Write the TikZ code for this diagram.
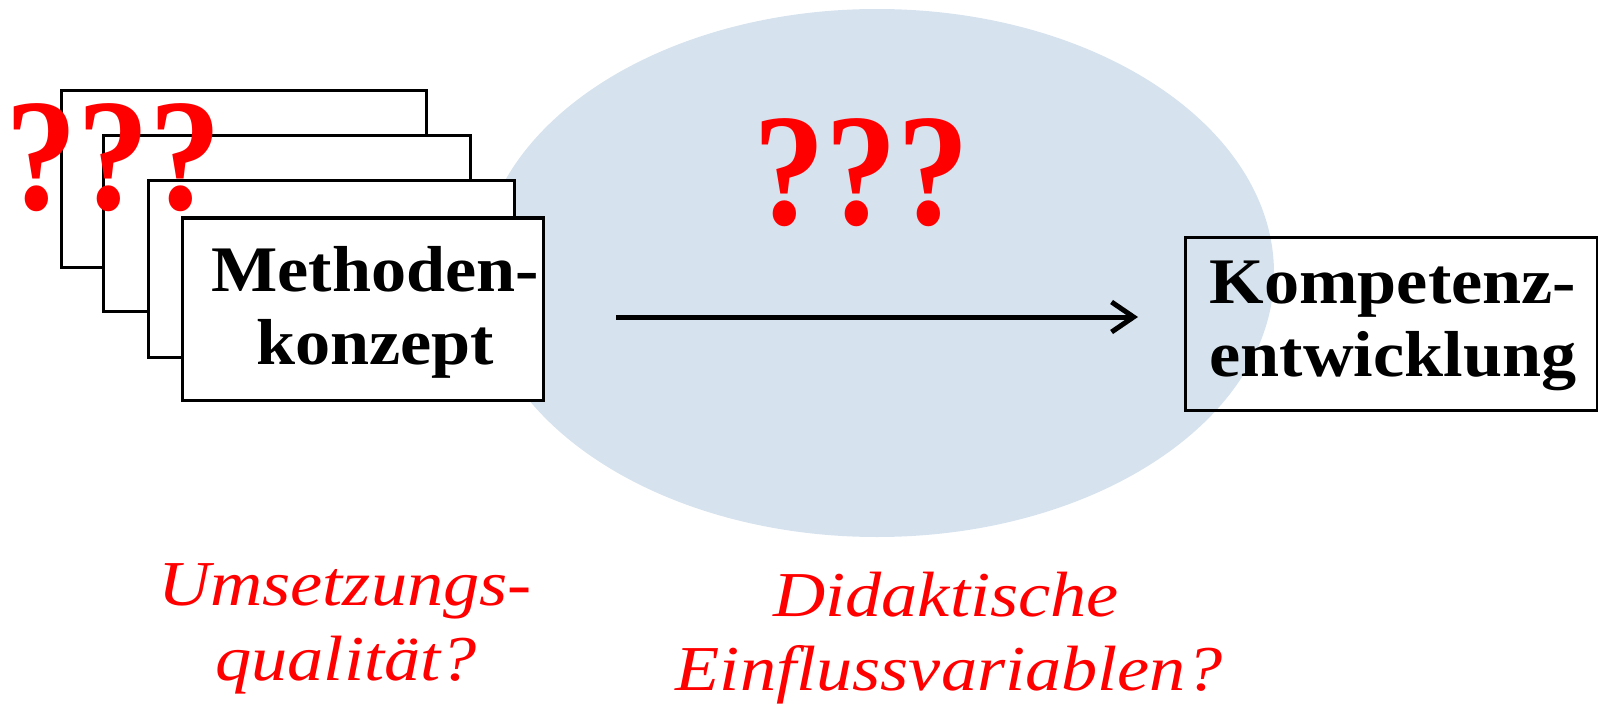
\documentclass[tikz,border=0pt]{standalone}
\usepackage{fontspec}
\setmainfont{Liberation Serif}
\usetikzlibrary{arrows.meta}
\definecolor{ellfill}{RGB}{214,226,238}
\definecolor{qred}{RGB}{255,0,0}
\newcommand{\bx}[1]{\scalebox{1.08}[1]{#1}}
\newcommand{\rx}[1]{\scalebox{1.13}[1]{#1}}
\tikzset{
  card/.style={draw=black, line width=3bp, fill=white},
  outbox/.style={draw=black, line width=3bp},
  boxtext/.style={font=\fontsize{65bp}{73bp}\selectfont\bfseries, align=center, inner sep=0pt},
  redlabel/.style={text=qred, font=\fontsize{64bp}{76bp}\selectfont\itshape, align=center, inner sep=0pt},
  qmarks/.style={text=qred, font=\fontsize{160bp}{160bp}\selectfont\bfseries, inner sep=0pt, anchor=base},
}
\begin{document}
\begin{tikzpicture}[x=1bp,y=-1bp]
\useasboundingbox (0,0) rectangle (1598,706);
% background ellipse
\fill[ellfill] (877,273) ellipse [x radius=397, y radius=264];
% stacked cards
\draw[card] (61,91) rectangle (426,267);
\draw[card] (103,136) rectangle (470,311);
\draw[card] (148,180) rectangle (514,357);
\node[card, minimum width=361bp, minimum height=182bp, inner sep=0pt] (meth) at (362.5,309) {};
\node[boxtext] (methtext) at (375,312) {\bx{Methoden-}\\\bx{konzept}};
% question marks on cards
\node[qmarks] (q1) at (113,209) {\scalebox{0.9}[1]{???}};
% central question marks
\node[qmarks] (q2) at (861,224) {\scalebox{0.9}[1]{???}};
% target box
\node[outbox, minimum width=412bp, minimum height=173bp, inner sep=0pt] (komp) at (1391,323.5) {};
\node[boxtext] (komptext) at (1393,326) {\bx{Kompetenz-}\\\bx{entwicklung}};
% arrow
\coordinate (astart) at (616,317);
\coordinate (aend) at (1138,317);
\draw[line width=5bp, -{Straight Barb[length=22bp, width=30bp, line width=5bp]}] (astart) -- (aend);
% red labels
\node[redlabel, anchor=base] (lab1a) at (345,605) {\rx{Umsetzungs-}};
\node[redlabel, anchor=base] (lab1b) at (346,680) {\rx{qualität?}};
\node[redlabel, anchor=base] (lab2a) at (946,616) {\rx{Didaktische}};
\node[redlabel, anchor=base] (lab2b) at (949,690) {\rx{Einflussvariablen?}};
\end{tikzpicture}
\end{document}
